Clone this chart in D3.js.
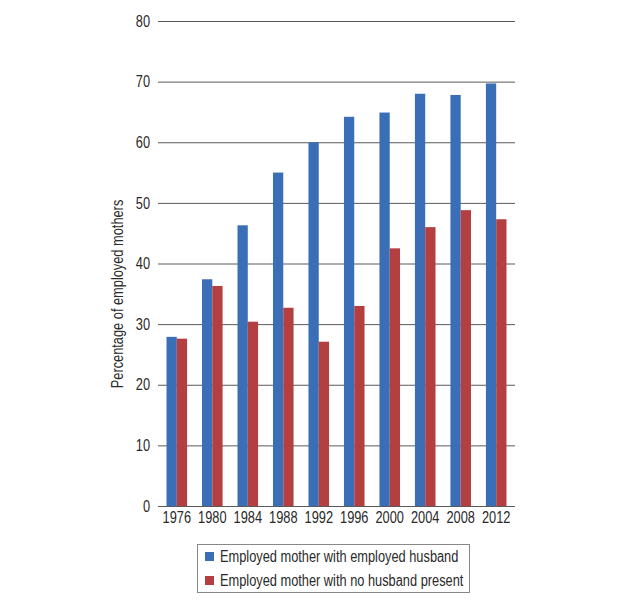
<!DOCTYPE html>
<html>
<head>
<meta charset="utf-8">
<script src="https://cdn.jsdelivr.net/npm/d3@7"></script>
<style>
  body { margin: 0; background: #fff; }
  text { font-family: "Liberation Sans", Arial, sans-serif; fill: #2a2a2a; }
</style>
</head>
<body>
<script>
const years = ["1976", "1980", "1984", "1988", "1992", "1996", "2000", "2004", "2008", "2012"]
const withHusband = [27.9, 37.4, 46.3, 55.0, 60.0, 64.2, 64.9, 68.0, 67.8, 69.7]
const noHusband = [27.6, 36.3, 30.4, 32.7, 27.1, 33.0, 42.5, 46.0, 48.8, 47.3]
const seriesNames = ["Employed mother with employed husband", "Employed mother with no husband present"]
const colors = ["#3a6fb7", "#b43f40"]
const yTicks = [0, 10, 20, 30, 40, 50, 60, 70, 80]

const w = 624
const h = 600
const svg = d3.select("body")
    .append("svg")
    .attr("width", w)
    .attr("height", h)

// no condensed font installed, so squeeze the text horizontally
function condense(sel) {
    sel.each(function() {
        const len = this.getComputedTextLength()
        d3.select(this)
            .attr("textLength", len * 0.8)
            .attr("lengthAdjust", "spacingAndGlyphs")
    })
}

const x = d3.scaleBand()
    .domain(years)
    .range([158, 515])
    .paddingInner(0.42)
    .paddingOuter(0.24)

const sub = d3.scaleBand()
    .domain([0, 1])
    .range([0, x.bandwidth()])

const y = d3.scaleLinear()
    .domain([0, 80])
    .range([506, 21])

// gridlines + tick labels
const yAxis = svg.append("g")
    .attr("transform", "translate(158,0)")
    .call(d3.axisLeft(y).tickValues(yTicks).tickSize(-357).tickPadding(8))
yAxis.select(".domain").remove()
yAxis.selectAll(".tick line").attr("stroke", "#5a5a5a").attr("stroke-width", 1)
yAxis.selectAll(".tick text").style("font-size", "16px").attr("fill", "#2a2a2a").call(condense)

const rows = years.map((yr, i) => ({year: yr, vals: [withHusband[i], noHusband[i]]}))

svg.append("g").selectAll("g")
    .data(rows)
    .enter()
    .append("g")
    .attr("transform", d => "translate(" + x(d.year) + ",0)")
    .selectAll("rect")
    .data(d => d.vals.map((v, k) => ({k: k, v: v})))
    .enter()
    .append("rect")
    .attr("x", d => sub(d.k))
    .attr("width", sub.bandwidth())
    .attr("y", d => y(d.v))
    .attr("height", d => y(0) - y(d.v))
    .attr("fill", d => colors[d.k])

// x axis labels
const xAxis = svg.append("g")
    .attr("transform", "translate(0,506)")
    .call(d3.axisBottom(x).tickSize(0).tickPadding(6))
xAxis.select(".domain").remove()
xAxis.selectAll(".tick text").style("font-size", "16px").attr("fill", "#2a2a2a").call(condense)

// y axis title
svg.append("text")
    .attr("transform", "translate(123,294) rotate(-90)")
    .attr("text-anchor", "middle")
    .style("font-size", "16px")
    .text("Percentage of employed mothers")
    .call(condense)

// legend
const legend = svg.append("g")
legend.append("rect")
    .attr("x", 197.5)
    .attr("y", 544.5)
    .attr("width", 272)
    .attr("height", 48)
    .attr("fill", "none")
    .attr("stroke", "#888")

seriesNames.forEach((name, i) => {
    legend.append("rect")
        .attr("x", 205)
        .attr("y", 552 + i * 24)
        .attr("width", 9)
        .attr("height", 9)
        .attr("fill", colors[i])
    legend.append("text")
        .attr("x", 220)
        .attr("y", 562 + i * 24)
        .style("font-size", "16px")
        .text(name)
        .call(condense)
})
</script>
</body>
</html>
